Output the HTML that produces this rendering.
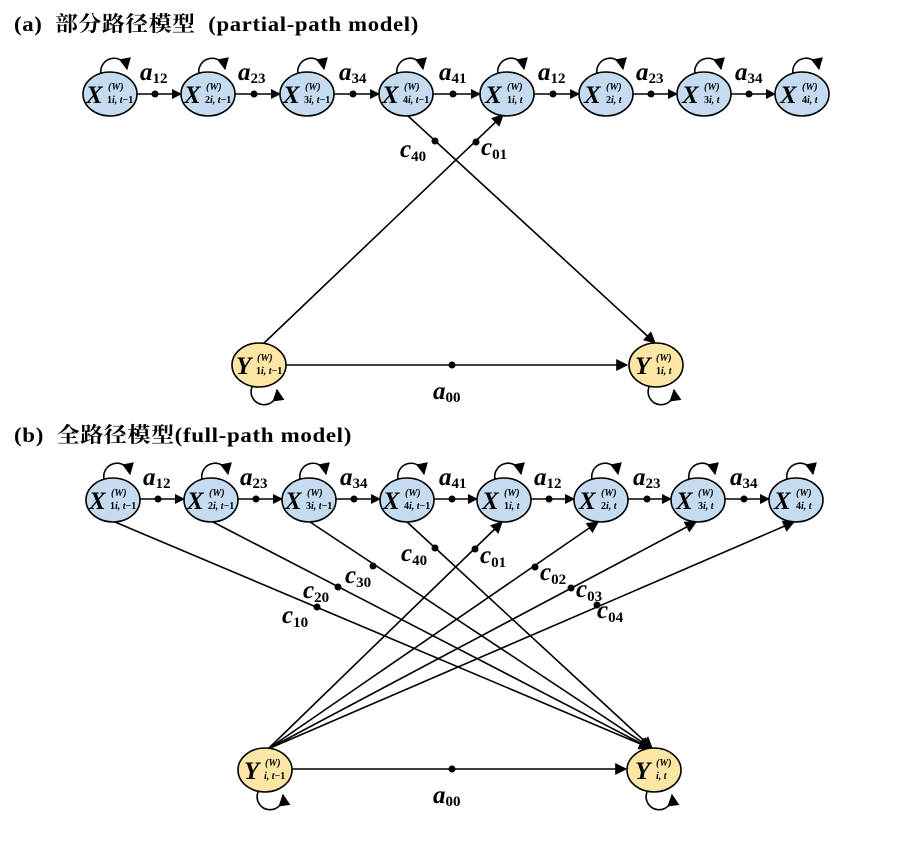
<!DOCTYPE html>
<html><head><meta charset="utf-8"><style>
html,body{margin:0;padding:0;background:#fff;}
svg{display:block;font-family:"Liberation Serif","Noto Serif CJK SC",serif;}
.t{font-weight:bold;font-size:21px;letter-spacing:0.6px;white-space:pre;}
.v{font-weight:bold;font-style:italic;font-size:25px;}
.s{font-weight:bold;font-size:15px;font-style:normal;}
.n{font-weight:bold;font-style:italic;font-size:25px;}
.sup{font-weight:bold;font-style:italic;font-size:10px;}
.sub{font-weight:bold;font-size:10px;}
.x{fill:#c5dcf0;stroke:#000;stroke-width:1.6;}
.y{fill:#fbe6a6;stroke:#000;stroke-width:1.6;}
.e{stroke:#000;stroke-width:1.6;fill:none;}
</style></head><body>
<svg width="904" height="849" viewBox="0 0 904 849" xmlns="http://www.w3.org/2000/svg">
<defs>
<marker id="ar" viewBox="0 0 10 10" refX="9" refY="5" markerWidth="10" markerHeight="10" markerUnits="userSpaceOnUse" orient="auto"><path d="M0,0 L10,5 L0,10 z" fill="#000"/></marker>
<marker id="ar2" viewBox="0 0 10 10" refX="9" refY="5" markerWidth="14" markerHeight="12" markerUnits="userSpaceOnUse" orient="auto"><path d="M0,0 L10,5 L0,10 z" fill="#000"/></marker>
</defs>

<text class="t" x="14" y="31" textLength="405" lengthAdjust="spacingAndGlyphs">(a)  部分路径模型  (partial-path model)</text>
<text class="t" x="14" y="442" textLength="338" lengthAdjust="spacingAndGlyphs">(b)  全路径模型(full-path model)</text>

<!-- ===== (a) ===== -->
<g>
<line class="e" x1="137" y1="94" x2="181" y2="94" marker-end="url(#ar)"/><circle cx="155" cy="94" r="3.5"/>
<line class="e" x1="235" y1="94" x2="280" y2="94" marker-end="url(#ar)"/><circle cx="254" cy="94" r="3.5"/>
<line class="e" x1="334" y1="94" x2="379" y2="94" marker-end="url(#ar)"/><circle cx="353" cy="94" r="3.5"/>
<line class="e" x1="433" y1="94" x2="480" y2="94" marker-end="url(#ar)"/><circle cx="453" cy="94" r="3.5"/>
<line class="e" x1="534" y1="94" x2="579" y2="94" marker-end="url(#ar)"/><circle cx="553" cy="94" r="3.5"/>
<line class="e" x1="633" y1="94" x2="677" y2="94" marker-end="url(#ar)"/><circle cx="651" cy="94" r="3.5"/>
<line class="e" x1="731" y1="94" x2="775" y2="94" marker-end="url(#ar)"/><circle cx="749" cy="94" r="3.5"/>
<text class="v" x="140" y="80">a<tspan class="s" dy="3">12</tspan></text>
<text class="v" x="238" y="80">a<tspan class="s" dy="3">23</tspan></text>
<text class="v" x="339" y="80">a<tspan class="s" dy="3">34</tspan></text>
<text class="v" x="439" y="80">a<tspan class="s" dy="3">41</tspan></text>
<text class="v" x="538" y="80">a<tspan class="s" dy="3">12</tspan></text>
<text class="v" x="636" y="80">a<tspan class="s" dy="3">23</tspan></text>
<text class="v" x="735" y="80">a<tspan class="s" dy="3">34</tspan></text>
<line class="e" x1="407" y1="115" x2="655" y2="343" marker-end="url(#ar2)"/><circle cx="435" cy="141" r="3.5"/>
<line class="e" x1="262" y1="345" x2="503" y2="115" marker-end="url(#ar2)"/><circle cx="476" cy="142" r="3.5"/>
<text class="v" x="400" y="157">c<tspan class="s" dy="4">40</tspan></text>
<text class="v" x="481" y="155">c<tspan class="s" dy="4">01</tspan></text>
<line class="e" x1="286" y1="365" x2="627" y2="365" marker-end="url(#ar2)"/><circle cx="452" cy="365" r="3.5"/>
<text class="v" x="433" y="399">a<tspan class="s" dy="3">00</tspan></text>
</g>

<g>
<path class="e" d="M101,74 A13 13 0 1 1 127,69" marker-end="url(#ar2)"/>
<path class="e" d="M199,74 A13 13 0 1 1 225,69" marker-end="url(#ar2)"/>
<path class="e" d="M298,74 A13 13 0 1 1 324,69" marker-end="url(#ar2)"/>
<path class="e" d="M397,74 A13 13 0 1 1 423,69" marker-end="url(#ar2)"/>
<path class="e" d="M498,74 A13 13 0 1 1 524,69" marker-end="url(#ar2)"/>
<path class="e" d="M597,74 A13 13 0 1 1 623,69" marker-end="url(#ar2)"/>
<path class="e" d="M695,74 A13 13 0 1 1 721,69" marker-end="url(#ar2)"/>
<path class="e" d="M793,74 A13 13 0 1 1 819,69" marker-end="url(#ar2)"/>
<path class="e" d="M252,387 A13 13 0 1 0 277,390" marker-end="url(#ar2)"/>
<path class="e" d="M649,387 A13 13 0 1 0 674,390" marker-end="url(#ar2)"/>
</g>

<g>
<ellipse class="x" cx="110" cy="94" rx="27" ry="22"/><text class="n" x="86" y="103">X</text><text class="sup" x="108" y="90">(W)</text><text class="sub" x="107" y="103">1<tspan font-style="italic">i, t</tspan>−1</text>
<ellipse class="x" cx="208" cy="94" rx="27" ry="22"/><text class="n" x="184" y="103">X</text><text class="sup" x="206" y="90">(W)</text><text class="sub" x="205" y="103">2<tspan font-style="italic">i, t</tspan>−1</text>
<ellipse class="x" cx="307" cy="94" rx="27" ry="22"/><text class="n" x="283" y="103">X</text><text class="sup" x="305" y="90">(W)</text><text class="sub" x="304" y="103">3<tspan font-style="italic">i, t</tspan>−1</text>
<ellipse class="x" cx="406" cy="94" rx="27" ry="22"/><text class="n" x="382" y="103">X</text><text class="sup" x="404" y="90">(W)</text><text class="sub" x="403" y="103">4<tspan font-style="italic">i, t</tspan>−1</text>
<ellipse class="x" cx="507" cy="94" rx="27" ry="22"/><text class="n" x="485" y="103">X</text><text class="sup" x="507" y="90">(W)</text><text class="sub" x="507" y="103">1<tspan font-style="italic">i, t</tspan></text>
<ellipse class="x" cx="606" cy="94" rx="27" ry="22"/><text class="n" x="584" y="103">X</text><text class="sup" x="606" y="90">(W)</text><text class="sub" x="606" y="103">2<tspan font-style="italic">i, t</tspan></text>
<ellipse class="x" cx="704" cy="94" rx="27" ry="22"/><text class="n" x="682" y="103">X</text><text class="sup" x="704" y="90">(W)</text><text class="sub" x="704" y="103">3<tspan font-style="italic">i, t</tspan></text>
<ellipse class="x" cx="802" cy="94" rx="27" ry="22"/><text class="n" x="780" y="103">X</text><text class="sup" x="802" y="90">(W)</text><text class="sub" x="802" y="103">4<tspan font-style="italic">i, t</tspan></text>
<ellipse class="y" cx="259" cy="365" rx="27" ry="22"/><text class="n" x="236" y="374">Y</text><text class="sup" x="257" y="361">(W)</text><text class="sub" x="256" y="374">1<tspan font-style="italic">i, t</tspan>−1</text>
<ellipse class="y" cx="656" cy="365" rx="27" ry="22"/><text class="n" x="635" y="374">Y</text><text class="sup" x="656" y="361">(W)</text><text class="sub" x="656" y="374">1<tspan font-style="italic">i, t</tspan></text>
</g>

<!-- ===== (b) ===== -->
<g>
<line class="e" x1="140" y1="499" x2="184" y2="499" marker-end="url(#ar)"/><circle cx="158" cy="499" r="3.5"/>
<line class="e" x1="238" y1="499" x2="282" y2="499" marker-end="url(#ar)"/><circle cx="256" cy="499" r="3.5"/>
<line class="e" x1="336" y1="499" x2="380" y2="499" marker-end="url(#ar)"/><circle cx="354" cy="499" r="3.5"/>
<line class="e" x1="434" y1="499" x2="477" y2="499" marker-end="url(#ar)"/><circle cx="452" cy="499" r="3.5"/>
<line class="e" x1="531" y1="499" x2="574" y2="499" marker-end="url(#ar)"/><circle cx="549" cy="499" r="3.5"/>
<line class="e" x1="628" y1="499" x2="671" y2="499" marker-end="url(#ar)"/><circle cx="647" cy="499" r="3.5"/>
<line class="e" x1="725" y1="499" x2="769" y2="499" marker-end="url(#ar)"/><circle cx="744" cy="499" r="3.5"/>
<text class="v" x="143" y="485">a<tspan class="s" dy="3">12</tspan></text>
<text class="v" x="240" y="485">a<tspan class="s" dy="3">23</tspan></text>
<text class="v" x="340" y="485">a<tspan class="s" dy="3">34</tspan></text>
<text class="v" x="439" y="485">a<tspan class="s" dy="3">41</tspan></text>
<text class="v" x="534" y="485">a<tspan class="s" dy="3">12</tspan></text>
<text class="v" x="633" y="485">a<tspan class="s" dy="3">23</tspan></text>
<text class="v" x="730" y="485">a<tspan class="s" dy="3">34</tspan></text>

<line class="e" x1="115" y1="522" x2="650" y2="748" marker-end="url(#ar2)"/><circle cx="317" cy="607" r="3.5"/>
<line class="e" x1="213" y1="522" x2="650" y2="748" marker-end="url(#ar2)"/><circle cx="338" cy="587" r="3.5"/>
<line class="e" x1="310" y1="522" x2="651" y2="748" marker-end="url(#ar2)"/><circle cx="373" cy="566" r="3.5"/>
<line class="e" x1="407" y1="522" x2="652" y2="748" marker-end="url(#ar2)"/><circle cx="435" cy="548" r="3.5"/>
<line class="e" x1="268" y1="749" x2="502" y2="522" marker-end="url(#ar2)"/><circle cx="475" cy="549" r="3.5"/>
<line class="e" x1="268" y1="749" x2="598" y2="522" marker-end="url(#ar2)"/><circle cx="535" cy="567" r="3.5"/>
<line class="e" x1="268" y1="749" x2="696" y2="522" marker-end="url(#ar2)"/><circle cx="571" cy="588" r="3.5"/>
<line class="e" x1="268" y1="749" x2="794" y2="522" marker-end="url(#ar2)"/><circle cx="597" cy="605" r="3.5"/>
<text class="v" x="282" y="623">c<tspan class="s" dy="4">10</tspan></text>
<text class="v" x="303" y="598">c<tspan class="s" dy="4">20</tspan></text>
<text class="v" x="345" y="583">c<tspan class="s" dy="4">30</tspan></text>
<text class="v" x="401" y="561">c<tspan class="s" dy="4">40</tspan></text>
<text class="v" x="480" y="563">c<tspan class="s" dy="4">01</tspan></text>
<text class="v" x="540" y="580">c<tspan class="s" dy="4">02</tspan></text>
<text class="v" x="576" y="597">c<tspan class="s" dy="4">03</tspan></text>
<text class="v" x="597" y="618">c<tspan class="s" dy="4">04</tspan></text>
<line class="e" x1="292" y1="769" x2="626" y2="769" marker-end="url(#ar2)"/><circle cx="452" cy="769" r="3.5"/>
<text class="v" x="433" y="803">a<tspan class="s" dy="3">00</tspan></text>
</g>

<g>
<path class="e" d="M104,479 A13 13 0 1 1 130,474" marker-end="url(#ar2)"/>
<path class="e" d="M202,479 A13 13 0 1 1 228,474" marker-end="url(#ar2)"/>
<path class="e" d="M300,479 A13 13 0 1 1 326,474" marker-end="url(#ar2)"/>
<path class="e" d="M398,479 A13 13 0 1 1 424,474" marker-end="url(#ar2)"/>
<path class="e" d="M495,479 A13 13 0 1 1 521,474" marker-end="url(#ar2)"/>
<path class="e" d="M592,479 A13 13 0 1 1 618,474" marker-end="url(#ar2)"/>
<path class="e" d="M689,479 A13 13 0 1 1 715,474" marker-end="url(#ar2)"/>
<path class="e" d="M787,479 A13 13 0 1 1 813,474" marker-end="url(#ar2)"/>
<path class="e" d="M258,792 A13 13 0 1 0 283,795" marker-end="url(#ar2)"/>
<path class="e" d="M647,792 A13 13 0 1 0 672,795" marker-end="url(#ar2)"/>
</g>

<g>
<ellipse class="x" cx="113" cy="500" rx="27" ry="22"/><text class="n" x="89" y="509">X</text><text class="sup" x="111" y="496">(W)</text><text class="sub" x="110" y="509">1<tspan font-style="italic">i, t</tspan>−1</text>
<ellipse class="x" cx="211" cy="500" rx="27" ry="22"/><text class="n" x="187" y="509">X</text><text class="sup" x="209" y="496">(W)</text><text class="sub" x="208" y="509">2<tspan font-style="italic">i, t</tspan>−1</text>
<ellipse class="x" cx="309" cy="500" rx="27" ry="22"/><text class="n" x="285" y="509">X</text><text class="sup" x="307" y="496">(W)</text><text class="sub" x="306" y="509">3<tspan font-style="italic">i, t</tspan>−1</text>
<ellipse class="x" cx="407" cy="500" rx="27" ry="22"/><text class="n" x="383" y="509">X</text><text class="sup" x="405" y="496">(W)</text><text class="sub" x="404" y="509">4<tspan font-style="italic">i, t</tspan>−1</text>
<ellipse class="x" cx="504" cy="500" rx="27" ry="22"/><text class="n" x="482" y="509">X</text><text class="sup" x="504" y="496">(W)</text><text class="sub" x="504" y="509">1<tspan font-style="italic">i, t</tspan></text>
<ellipse class="x" cx="601" cy="500" rx="27" ry="22"/><text class="n" x="579" y="509">X</text><text class="sup" x="601" y="496">(W)</text><text class="sub" x="601" y="509">2<tspan font-style="italic">i, t</tspan></text>
<ellipse class="x" cx="698" cy="500" rx="27" ry="22"/><text class="n" x="676" y="509">X</text><text class="sup" x="698" y="496">(W)</text><text class="sub" x="698" y="509">3<tspan font-style="italic">i, t</tspan></text>
<ellipse class="x" cx="796" cy="500" rx="27" ry="22"/><text class="n" x="774" y="509">X</text><text class="sup" x="796" y="496">(W)</text><text class="sub" x="796" y="509">4<tspan font-style="italic">i, t</tspan></text>
<ellipse class="y" cx="265" cy="770" rx="27" ry="22"/><text class="n" x="244" y="779">Y</text><text class="sup" x="265" y="766">(W)</text><text class="sub" x="264" y="779"><tspan font-style="italic">i, t</tspan>−1</text>
<ellipse class="y" cx="654" cy="770" rx="27" ry="22"/><text class="n" x="635" y="779">Y</text><text class="sup" x="656" y="766">(W)</text><text class="sub" x="656" y="779"><tspan font-style="italic">i, t</tspan></text>
</g>
</svg>
</body></html>
